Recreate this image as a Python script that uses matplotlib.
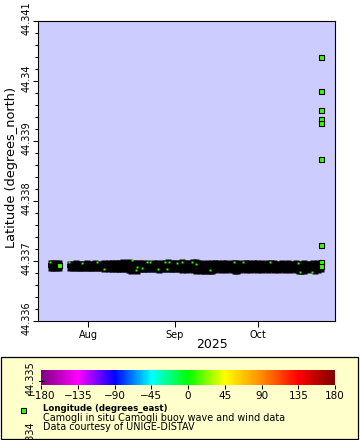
# Camogli buoy position (ERDDAP-style track plot)
import matplotlib
matplotlib.use('Agg')
import matplotlib.pyplot as plt
import matplotlib.dates as mdates
import matplotlib.ticker as mticker
import pandas as pd
from matplotlib.colors import LinearSegmentedColormap, Normalize
from matplotlib.cm import ScalarMappable
from matplotlib.transforms import ScaledTranslation
from matplotlib.lines import Line2D
from matplotlib.patches import Rectangle

# daily envelope of the dense (hourly) track
band_days = pd.date_range('2025-07-18 12:00', '2025-07-21 12:00', freq='D').append(
    pd.date_range('2025-07-25 12:00', '2025-10-23 12:00', freq='D'))

lat_hi = [44.33697, 44.33697, 44.33696, 44.33697,
          44.33695, 44.33695, 44.33696, 44.33695, 44.33695, 44.33695, 44.33696,
          44.33695, 44.33695, 44.33696, 44.33695, 44.33695, 44.33696, 44.33695, 44.33696,
          44.33696, 44.33697, 44.33696, 44.33697, 44.33698, 44.33697, 44.33698, 44.33697,
          44.33696, 44.33697, 44.33696, 44.33696, 44.33695, 44.33696, 44.33695, 44.33696,
          44.33696, 44.33695, 44.33696, 44.33697, 44.33698, 44.33697, 44.33696,
          44.33696, 44.33697, 44.33698, 44.33697, 44.33696, 44.33697, 44.33698, 44.33698,
          44.33697, 44.33696, 44.33695, 44.33696, 44.33695, 44.33696, 44.33697, 44.33696,
          44.33695, 44.33696, 44.33696, 44.33695, 44.33696, 44.33697, 44.33696, 44.33695,
          44.33696, 44.33697, 44.33696, 44.33695, 44.33696, 44.33696,
          44.33695, 44.33696, 44.33695, 44.33696, 44.33697, 44.33696, 44.33695, 44.33695,
          44.33696, 44.33695, 44.33696, 44.33695, 44.33695, 44.33696, 44.33695, 44.33695,
          44.33696, 44.33695, 44.33695, 44.33696, 44.33695, 44.33696, 44.33696]

lat_lo = [44.33688, 44.33688, 44.33688, 44.33688,
          44.33689, 44.33688, 44.33689, 44.33689, 44.33688, 44.33689, 44.33688,
          44.33688, 44.33689, 44.33688, 44.33688, 44.33689, 44.33687, 44.33688, 44.33687,
          44.33687, 44.33686, 44.33687, 44.33686, 44.33687, 44.33686, 44.33685, 44.33684,
          44.33685, 44.33684, 44.33686, 44.33687, 44.33686, 44.33687, 44.33686, 44.33687,
          44.33686, 44.33685, 44.33686, 44.33687, 44.33686, 44.33687, 44.33686,
          44.33687, 44.33686, 44.33685, 44.33686, 44.33685, 44.33686, 44.33685, 44.33684,
          44.33685, 44.33684, 44.33683, 44.33684, 44.33683, 44.33684, 44.33685, 44.33686,
          44.33685, 44.33686, 44.33685, 44.33686, 44.33685, 44.33684, 44.33683, 44.33685,
          44.33686, 44.33685, 44.33686, 44.33685, 44.33686, 44.33685,
          44.33686, 44.33685, 44.33686, 44.33685, 44.33686, 44.33685, 44.33686, 44.33685,
          44.33686, 44.33685, 44.33686, 44.33685, 44.33686, 44.33685, 44.33684, 44.33683,
          44.33684, 44.33685, 44.33686, 44.33685, 44.33684, 44.33685, 44.33686]

# bits of marker fill still visible inside the dense band
speck_time = pd.to_datetime([
    '2025-07-18 06:00', '2025-07-25 04:00', '2025-07-29 15:00', '2025-08-04 05:30',
    '2025-08-06 18:00', '2025-08-16 19:00', '2025-08-18 09:00', '2025-08-18 00:00',
    '2025-08-20 04:00', '2025-08-21 23:00', '2025-08-23 04:00', '2025-08-25 22:00',
    '2025-08-28 13:00', '2025-08-30 02:00', '2025-08-29 09:00', '2025-09-01 17:30',
    '2025-09-03 13:00', '2025-09-07 03:00', '2025-09-08 16:00', '2025-09-13 16:00',
    '2025-09-22 10:00', '2025-09-25 15:00', '2025-10-05 05:00', '2025-10-15 09:00',
    '2025-10-16 00:00', '2025-10-20 10:00'])
speck_lat = [44.336987, 44.336977, 44.336961, 44.336977,
             44.336861, 44.337011, 44.336894, 44.336849,
             44.336877, 44.336977, 44.336977, 44.336861,
             44.336977, 44.336987, 44.336861, 44.336961,
             44.336987, 44.336987, 44.336944, 44.336845,
             44.336987, 44.336982, 44.336987, 44.336971,
             44.336821, 44.336821]

# individually visible observations (coloured by longitude)
pt_time = pd.to_datetime(['2025-07-21 20:00'] + ['2025-10-23 19:00'] * 9)
pt_lat = [44.336932, 44.340384, 44.339829, 44.339497, 44.339363,
          44.339285, 44.338697, 44.337265, 44.336971, 44.336904]
pt_lon = [9.152, 9.152, 9.152, 9.152, 9.152, 9.152, 9.152, 9.152, 9.152, 9.152]

assert len(band_days) == len(lat_hi) == len(lat_lo)

cmap = LinearSegmentedColormap.from_list('rainbow2', [
    '#800080', '#ff00ff', '#0000ff', '#00ffff', '#00ff00',
    '#ffff00', '#ff8c00', '#ff0000', '#800000'])
norm = Normalize(-180, 180)
pt_colors = [cmap(norm(v)) for v in pt_lon]

W, H = 360, 440
fig = plt.figure(figsize=(3.6, 4.4), dpi=100)
ax = fig.add_axes([37.7 / W, 1 - 321 / H, (335 - 37.7) / W, (321 - 20.7) / H])
ax.set_facecolor('#ccccff')

# dense part: overlapping markers come out solid black
ax.vlines(band_days, lat_lo, lat_hi, color='black', lw=4.3, zorder=2)
ax.plot(band_days, lat_hi, 's', ms=4.3, mfc='black', mec='none', zorder=2)
ax.plot(band_days, lat_lo, 's', ms=4.3, mfc='black', mec='none', zorder=2)
ax.plot(speck_time, speck_lat, 's', ms=1.4, mfc=pt_colors[0], mec='none', zorder=3)
ax.scatter(pt_time, pt_lat, marker='s', s=3.6 ** 2, c=pt_colors,
           edgecolors='black', linewidths=0.8, zorder=4)

ax.set_xlim(pd.Timestamp('2025-07-13 20:00'), pd.Timestamp('2025-10-28 13:00'))
ax.set_ylim(44.336, 44.341)

ax.xaxis.set_major_locator(mdates.MonthLocator())
ax.xaxis.set_major_formatter(mdates.DateFormatter('%b'))
ax.yaxis.set_major_locator(mticker.MultipleLocator(0.001))
ax.yaxis.set_minor_locator(mticker.MultipleLocator(0.0002))
ax.yaxis.set_major_formatter(mticker.FuncFormatter(lambda v, p: '%g' % round(v, 4)))

ax.tick_params(axis='x', length=4, width=0.75, labelsize=7, pad=2.2)
ax.tick_params(axis='y', which='major', length=3.5, width=0.75, labelsize=7, pad=1)
ax.tick_params(axis='y', which='minor', length=2.5, width=0.75)
for lab in ax.get_yticklabels():
    lab.set_rotation(90)
    lab.set_va('center')
    lab.set_transform(lab.get_transform() + ScaledTranslation(0, 3 / 100, fig.dpi_scale_trans))
for s in ax.spines.values():
    s.set_linewidth(0.8)

fig.text(12 / W, 1 - 167 / H, 'Latitude (degrees_north)', rotation=90,
         ha='center', va='center', fontsize=9.3)
fig.text(212 / W, 1 - 345 / H, '2025', ha='center', va='center', fontsize=9)

# legend box
fig.add_artist(Rectangle((1 / W, 1 - 439 / H), 357 / W, (439 - 356.5) / H,
                         transform=fig.transFigure, facecolor='#ffffcc',
                         edgecolor='black', lw=0.9, zorder=-1))

cax = fig.add_axes([41 / W, 1 - 385 / H, 294 / W, 15 / H])
cb = fig.colorbar(ScalarMappable(norm=norm, cmap=cmap), cax=cax, orientation='horizontal')
cb.set_ticks(range(-180, 181, 45))
cb.outline.set_visible(False)
cax.tick_params(length=3, width=0.75, labelsize=7.5, pad=1.5)

# y labels running past the axes, as in the original
fig.text(30.8 / W, 1 - 378 / H, '44.335', rotation=90, ha='center', va='center', fontsize=7)
fig.text(30.8 / W, 1 - 438 / H, '44.334', rotation=90, ha='center', va='center', fontsize=7)
fig.add_artist(Line2D([39 / W, 44 / W], [1 - 381 / H, 1 - 381 / H],
                      transform=fig.transFigure, color='black', lw=0.75))

fig.add_artist(Line2D([22.5 / W], [1 - 409.5 / H], transform=fig.transFigure,
                      marker='s', ms=3.6, mfc=pt_colors[0], mec='black', mew=0.8))
fig.text(43 / W, 1 - 408.5 / H, 'Longitude (degrees_east)', fontsize=6.2,
         fontweight='bold', va='center')
fig.text(43 / W, 1 - 418 / H, 'Camogli in situ Camogli buoy wave and wind data',
         fontsize=6.9, va='center')
fig.text(43 / W, 1 - 427 / H, 'Data courtesy of UNIGE-DISTAV', fontsize=6.9, va='center')

fig.savefig('out.png', dpi=100)
